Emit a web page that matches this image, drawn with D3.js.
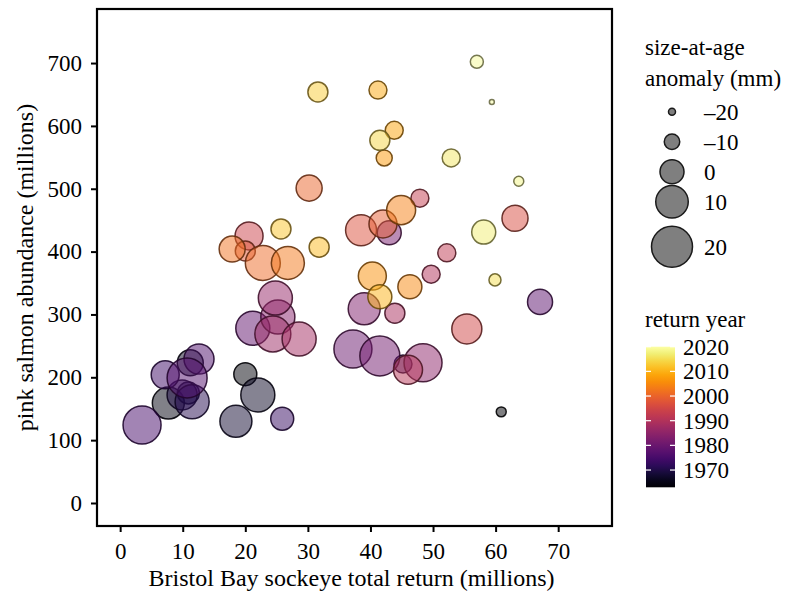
<!DOCTYPE html>
<html><head><meta charset="utf-8">
<script src="https://cdn.jsdelivr.net/npm/d3@7"></script>
<style>
body{margin:0;background:#fff}
svg{display:block}
text{font-family:"Liberation Serif","Times New Roman",serif;fill:#000}
</style>
</head><body><svg id="c" width="790" height="593"></svg>
<script>
// ---- data ----
const years = [1963,1964,1965,1966,1967,1968,1969,1970,1971,1972,1973,1974,1975,1976,1977,1978,1979,1980,1981,1982,1983,1984,1985,1986,1987,1988,1989,1990,1991,1992,1993,1994,1995,1996,1997,1998,1999,2000,2001,2002,2003,2004,2005,2006,2007,2008,2009,2010,2011,2012,2013,2014,2015,2016,2017,2018,2019,2020];
const sockeye = [60.9,20.0,7.7,11.2,22.0,18.5,10.9,9.9,11.5,45.2,25.9,7.2,3.5,12.6,10.7,67.1,21.2,37.2,41.5,43.0,39.0,25.2,48.4,24.8,24.4,28.6,43.9,49.7,46.0,52.2,47.9,20.6,55.4,63.1,38.5,20.0,42.0,30.2,22.8,17.9,26.8,44.9,46.3,40.3,42.2,43.8,41.2,41.5,31.8,25.7,31.6,41.5,59.9,52.9,58.1,63.7,57.0,59.4];
const pink = [145,205,159,223,172,130,175,172,161,221,134,204,124,229,199,320,278,245,234,430,309,296,223,326,269,261,302,364,212,398,485,425,277,453,434,401,444,501,382,404,382,466,344,361,549,593,657,328,407,436,654,577,355,549,431,512,702,638];
const anomaly = [-16.5,-1.2,9.4,2.4,11.8,9.4,-2.4,7.1,11.8,-7.1,-1.2,4.7,16.5,7.1,18.8,1.2,11.8,16.5,18.8,0.0,9.4,11.8,16.5,11.8,14.1,11.8,-4.7,-7.1,5.9,-7.1,-7.1,4.7,7.1,2.4,8.2,-4.7,4.7,2.4,12.9,2.4,10.6,5.9,0.0,4.7,-9.4,-7.1,-7.1,0.0,-4.7,-4.7,-4.7,-4.7,-14.1,-7.1,0.0,-16.5,-12.9,-22.4];
const xTicks = [0,10,20,30,40,50,60,70];
const yTicks = [0,100,200,300,400,500,600,700];
const sizeBreaks = [-20,-10,0,10,20];
const yearBreaks = [1970,1980,1990,2000,2010,2020];
const xTitle = "Bristol Bay sockeye total return (millions)";
const yTitle = "pink salmon abundance (millions)";
const sizeTitle = ["size-at-age","anomaly (mm)"];
const colorTitle = "return year";

// ---- layout ----
const FONT = '"Liberation Serif","Times New Roman",serif';
const panel = {l:97, t:9, r:612, b:526};
const svg = d3.select('#c');
svg.append('rect').attr('width',790).attr('height',593).attr('fill','#fff');

const x = d3.scaleLinear().domain([-3.7,78.6]).range([panel.l,panel.r]);
const y = d3.scaleLinear().domain([-36.6,786]).range([panel.b,panel.t]);
const rScale = d3.scaleLinear().domain([-20,20]).range([3.5,20.5]);
const color = d3.scaleSequential(d3.interpolateInferno).domain([1963,2020]);
const strokeOf = yr => { const c = d3.rgb(color(yr)); return d3.rgb(c.r*0.42, c.g*0.42, c.b*0.42).toString(); };

svg.append('clipPath').attr('id','clip').append('rect')
  .attr('x',panel.l).attr('y',panel.t).attr('width',panel.r-panel.l).attr('height',panel.b-panel.t);

const data = years.map((yr,i)=>({year:yr, sx:sockeye[i], py:pink[i], a:anomaly[i]}));

svg.append('g').attr('clip-path','url(#clip)')
  .selectAll('circle').data(data).join('circle')
  .attr('cx',d=>x(d.sx)).attr('cy',d=>y(d.py)).attr('r',d=>rScale(d.a))
  .attr('fill',d=>color(d.year)).attr('fill-opacity',0.5)
  .attr('stroke',d=>strokeOf(d.year)).attr('stroke-opacity',0.9).attr('stroke-width',1.5);

// panel border
svg.append('rect').attr('x',panel.l).attr('y',panel.t)
  .attr('width',panel.r-panel.l).attr('height',panel.b-panel.t)
  .attr('fill','none').attr('stroke','#000').attr('stroke-width',2.2);

// axes
const gx = svg.append('g').attr('transform',`translate(0,${panel.b+1})`)
  .call(d3.axisBottom(x).tickValues(xTicks).tickSize(5).tickPadding(11));
gx.select('.domain').remove();
gx.attr('font-family',FONT).attr('font-size',23);
gx.selectAll('line').attr('stroke','#000').attr('stroke-width',2);
gx.selectAll('text').attr('fill','#000');

const gy = svg.append('g').attr('transform',`translate(${panel.l-1},0)`)
  .call(d3.axisLeft(y).tickValues(yTicks).tickSize(5).tickPadding(9));
gy.select('.domain').remove();
gy.attr('font-family',FONT).attr('font-size',23);
gy.selectAll('line').attr('stroke','#000').attr('stroke-width',2);
gy.selectAll('text').attr('fill','#000');

svg.append('text').attr('x',(panel.l+panel.r)/2-3).attr('y',586)
  .attr('text-anchor','middle').attr('font-size',24).text(xTitle);
svg.append('text').attr('transform',`translate(25,${(panel.t+panel.b)/2}) rotate(-90)`)
  .attr('text-anchor','middle').attr('dy','0.35em').attr('font-size',24).text(yTitle);

// size legend
const lg = svg.append('g');
sizeTitle.forEach((t,i)=>lg.append('text').attr('x',645).attr('y',55+i*31).attr('font-size',23).text(t));
const keyH = sizeBreaks.map(v=>rScale(v)>18?60:30);
let cy = 111.7; const keyY = [];
sizeBreaks.forEach((v,i)=>{ if(i>0) cy += (keyH[i-1]+keyH[i])/2; keyY.push(cy); });
lg.selectAll('circle').data(sizeBreaks).join('circle')
  .attr('cx',672).attr('cy',(d,i)=>keyY[i]).attr('r',d=>rScale(d))
  .attr('fill','#7f7f7f').attr('stroke','#1a1a1a').attr('stroke-width',1.5);
lg.selectAll('text.lab').data(sizeBreaks).join('text').attr('class','lab')
  .attr('x',704).attr('y',(d,i)=>keyY[i]).attr('dy','0.35em').attr('font-size',23)
  .text(d=>d<0?'\u2013'+Math.abs(d):d);

// colorbar
const cb = svg.append('g');
cb.append('text').attr('x',645).attr('y',327).attr('font-size',23).text(colorTitle);
const cbY = d3.scaleLinear().domain(color.domain()).range([487.3,346.7]);
const grad = svg.append('defs').append('linearGradient').attr('id','grad')
  .attr('x1',0).attr('y1',1).attr('x2',0).attr('y2',0);
d3.range(0,1.0001,0.05).forEach(t=>grad.append('stop').attr('offset',t)
  .attr('stop-color',color(color.domain()[0]+t*(color.domain()[1]-color.domain()[0]))));
cb.append('rect').attr('x',646).attr('y',cbY(2020)).attr('width',29)
  .attr('height',cbY(1963)-cbY(2020)).attr('fill','url(#grad)');
yearBreaks.forEach(v=>{
  cb.append('line').attr('x1',646).attr('x2',651).attr('y1',cbY(v)).attr('y2',cbY(v))
    .attr('stroke','#fff').attr('stroke-width',1.2);
  cb.append('line').attr('x1',670).attr('x2',675).attr('y1',cbY(v)).attr('y2',cbY(v))
    .attr('stroke','#fff').attr('stroke-width',1.2);
  cb.append('text').attr('x',683).attr('y',cbY(v)).attr('dy','0.35em').attr('font-size',23).text(v);
});
</script></body></html>
